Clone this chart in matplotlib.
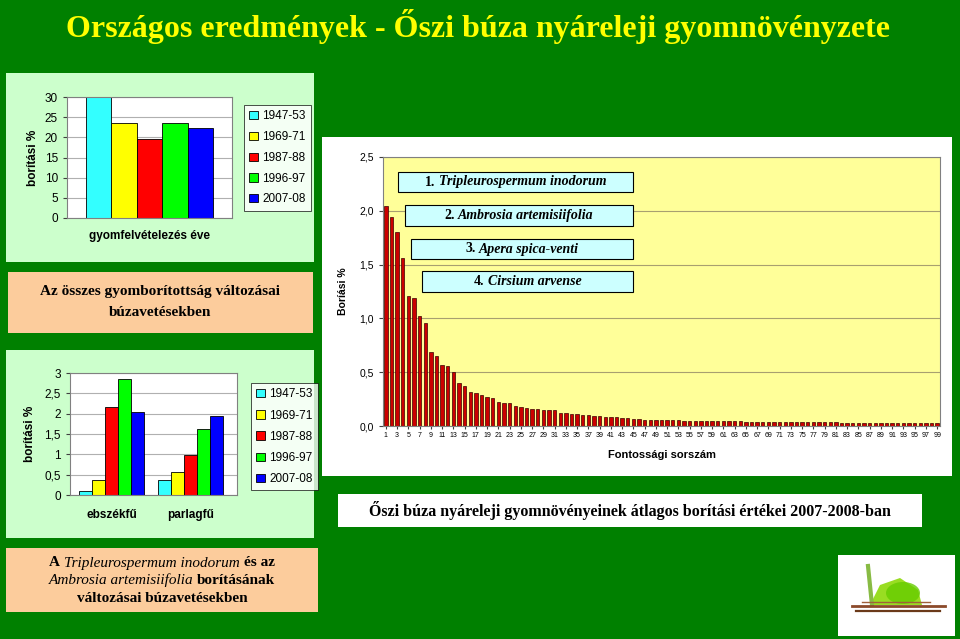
import numpy as np
import matplotlib.pyplot as plt
from matplotlib.patches import Rectangle, Patch, Ellipse, Polygon

# Adatok
years = ['1947-53', '1969-71', '1987-88', '1996-97', '2007-08']
year_colors = ['#33ffff', '#ffff00', '#ff0000', '#00ff00', '#0000ff']

# Összes gyomborítottság (%) felvételezési időszakonként
total_cover = [30.0, 23.6, 19.5, 23.6, 22.4]

# Ebszékfű és parlagfű borítása (%) időszakonként
weeds = ['ebszékfű', 'parlagfű']
cover_ebszekfu = [0.11, 0.38, 2.16, 2.86, 2.03]
cover_parlagfu = [0.36, 0.57, 0.99, 1.62, 1.95]

# 2007-08 átlagos borítás fontossági sorrendben (1..99)
rank_cover = [
    2.04, 1.94, 1.80, 1.56, 1.21, 1.185, 1.02, 0.96, 0.69, 0.655,
    0.567, 0.558, 0.503, 0.396, 0.368, 0.316, 0.307, 0.288, 0.270, 0.260,
    0.220, 0.210, 0.210, 0.190, 0.180, 0.170, 0.156, 0.156, 0.147, 0.147,
    0.147, 0.120, 0.120, 0.113, 0.110, 0.104, 0.098, 0.092, 0.090, 0.086,
    0.085, 0.083, 0.075, 0.073, 0.068, 0.066, 0.060, 0.058, 0.058, 0.058,
    0.058, 0.058, 0.058, 0.050, 0.050, 0.050, 0.050, 0.050, 0.050, 0.050,
    0.045, 0.045, 0.045, 0.045, 0.035, 0.035, 0.035, 0.035, 0.035, 0.035,
    0.035, 0.035, 0.035, 0.035, 0.035, 0.035, 0.035, 0.035, 0.035, 0.035,
    0.035, 0.025, 0.025, 0.025, 0.025, 0.025, 0.025, 0.025, 0.025, 0.025,
    0.025, 0.025, 0.025, 0.025, 0.025, 0.025, 0.025, 0.025, 0.025,
]
top_species = [
    ('1.', 'Tripleurospermum inodorum'),
    ('2.', 'Ambrosia artemisiifolia'),
    ('3.', 'Apera spica-venti'),
    ('4.', 'Cirsium arvense'),
]

SERIF = 'Liberation Serif'
plt.rcParams['font.family'] = 'Liberation Sans'

W, H = 960, 639
fig = plt.figure(figsize=(W / 100, H / 100), dpi=100, facecolor='#008000')

# háttér réteg pixel koordinátákkal
bg = fig.add_axes([0, 0, 1, 1])
bg.set_xlim(0, W)
bg.set_ylim(H, 0)
bg.axis('off')


def box(ax, x0, y0, x1, y1, fc, ec='none', lw=0):
    ax.add_patch(Rectangle((x0, y0), x1 - x0, y1 - y0, fc=fc, ec=ec, lw=lw))


def ax_px(x0, y0, x1, y1, **kw):
    return fig.add_axes([x0 / W, 1 - y1 / H, (x1 - x0) / W, (y1 - y0) / H], **kw)


box(bg, 6, 73, 314, 262, '#ccffcc')
box(bg, 8, 272, 313, 333, '#fccc9c')
box(bg, 6, 350, 314, 538, '#ccffcc')
box(bg, 6, 548, 318, 612, '#fccc9c')
box(bg, 322, 137, 952, 476, 'white')
box(bg, 338, 494, 922, 527, 'white')
box(bg, 838, 555, 955, 636, 'white')


def style_axes(ax):
    ax.set_axisbelow(True)
    ax.grid(axis='y', color='#b0b0b0', lw=0.8)
    for s in ax.spines.values():
        s.set_color('#808080')
        s.set_linewidth(0.8)
    ax.tick_params(colors='#404040', labelcolor='black', width=0.8, length=3)


def year_legend(x, y, spacing):
    handles = [Patch(fc=c, ec='black', lw=0.6) for c in year_colors]
    leg = fig.legend(handles, years, loc='upper left', bbox_to_anchor=(x / W, 1 - y / H),
                     fontsize=8.5, frameon=True, fancybox=False, edgecolor='black',
                     handlelength=0.7, handleheight=0.7, handletextpad=0.4,
                     labelspacing=spacing, borderaxespad=0, borderpad=0.45)
    leg.get_frame().set_linewidth(0.6)


# 1. összes gyomborítottság
ax1 = ax_px(67, 97, 232, 218)
style_axes(ax1)
for i, (v, c) in enumerate(zip(total_cover, year_colors)):
    ax1.bar(i, v, width=1, color=c, edgecolor='black', lw=0.6)
ax1.set_xlim(-1.25, 5.25)
ax1.set_ylim(0, 30)
ax1.set_yticks(range(0, 31, 5))
ax1.set_xticks([2])
ax1.set_xticklabels(['gyomfelvételezés éve'], fontweight='bold', fontsize=8.5)
ax1.tick_params(axis='x', length=0, pad=9)
ax1.tick_params(axis='y', labelsize=8.5)
ax1.set_ylabel('borítási %', fontweight='bold', fontsize=8.5, labelpad=4)
year_legend(244, 105, 0.74)

# 2. ebszékfű és parlagfű
ax2 = ax_px(70, 373, 237, 495)
style_axes(ax2)
x = np.arange(len(weeds))
bw = 0.165
for i, c in enumerate(year_colors):
    vals = [cover_ebszekfu[i], cover_parlagfu[i]]
    ax2.bar(x + (i - 2) * bw, vals, width=bw, color=c, edgecolor='black', lw=0.6)
ax2.set_xlim(-0.53, 1.59)
ax2.set_ylim(0, 3)
yt = [0, 0.5, 1, 1.5, 2, 2.5, 3]
ax2.set_yticks(yt)
ax2.set_yticklabels([('%g' % v).replace('.', ',') for v in yt], fontsize=8.5)
ax2.set_xticks(x)
ax2.set_xticklabels(weeds, fontweight='bold', fontsize=8.5)
ax2.tick_params(axis='x', length=0, pad=10)
ax2.set_ylabel('borítási %', fontweight='bold', fontsize=8.5, labelpad=6)
year_legend(251, 383, 0.78)

# 3. fontossági sorrend
ax3 = ax_px(383, 157, 940, 426, facecolor='#ffff99')
ax3.set_axisbelow(True)
ax3.grid(axis='y', color='#a8a070', lw=0.8)
for s in ax3.spines.values():
    s.set_color('#808080')
    s.set_linewidth(0.8)
ranks = np.arange(1, len(rank_cover) + 1)
ax3.bar(ranks, rank_cover, width=0.6, color='#cc0000', edgecolor='#3a0000', lw=0.5)
ax3.set_xlim(0.5, len(rank_cover) + 0.5)
ax3.set_ylim(0, 2.5)
yt3 = [0, 0.5, 1, 1.5, 2, 2.5]
ax3.set_yticks(yt3)
ax3.set_yticklabels([('%.1f' % v).replace('.', ',') for v in yt3], fontsize=7.5)
ax3.set_xticks(ranks[::2])
ax3.set_xticklabels([str(r) for r in ranks[::2]], fontsize=5)
ax3.tick_params(axis='x', length=2, pad=2, colors='#404040', labelcolor='black')
ax3.tick_params(axis='y', length=3, colors='#404040', labelcolor='black')
ax3.set_xlabel('Fontossági sorszám', fontweight='bold', fontsize=8, labelpad=8)
ax3.set_ylabel('Boríási %', fontweight='bold', fontsize=7.5, labelpad=8)

# felső réteg: szövegek, dobozok
top = fig.add_axes([0, 0, 1, 1], zorder=5)
top.set_xlim(0, W)
top.set_ylim(H, 0)
top.set_facecolor('none')
top.axis('off')

renderer = fig.canvas.get_renderer()


def rich_line(cx, y, parts, size, color='black'):
    """parts: (szöveg, stílus) párok; 'b' félkövér, 'i' dőlt, 'bi' mindkettő"""
    texts = []
    for s, st in parts:
        t = top.text(0, y, s, fontsize=size, family=SERIF, color=color,
                     fontweight='bold' if 'b' in st else 'normal',
                     fontstyle='italic' if 'i' in st else 'normal',
                     ha='left', va='center')
        texts.append(t)
    gap = size * 0.25 * 100 / 72
    widths = [t.get_window_extent(renderer).width for t in texts]
    xx = cx - (sum(widths) + gap * (len(texts) - 1)) / 2
    for t, w in zip(texts, widths):
        t.set_x(xx)
        xx += w + gap


top.text(478, 26, 'Országos eredmények - Őszi búza nyáreleji gyomnövényzete',
         fontsize=23, family=SERIF, fontweight='bold', color='#ffff00',
         ha='center', va='center')

rich_line(160, 291, [('Az összes gyomborítottság változásai', 'b')], 11)
rich_line(160, 312, [('búzavetésekben', 'b')], 11)

rich_line(162, 563, [('A', 'b'), ('Tripleurospermum inodorum', 'i'), ('és az', 'b')], 11)
rich_line(162, 580, [('Ambrosia artemisiifolia', 'i'), ('borításának', 'b')], 11)
rich_line(162, 598, [('változásai búzavetésekben', 'b')], 11)

rich_line(630, 510, [('Őszi búza nyáreleji gyomnövényeinek átlagos borítási értékei 2007-2008-ban', 'b')], 11.5)

species_boxes = [(398, 172, 192), (405, 205, 226), (411, 239, 259), (422, 271, 292)]
for (num, name), (x0, y0, y1) in zip(top_species, species_boxes):
    box(top, x0, y0, 633, y1, '#ccffff', ec='black', lw=0.8)
    rich_line((x0 + 633) / 2, (y0 + y1) / 2, [(num, 'b'), (name, 'bi')], 10)

# logó
top.add_patch(Polygon([(870, 605), (880, 585), (900, 578), (918, 590), (922, 605)],
                      closed=True, fc='#99dd22', ec='none'))
top.add_patch(Ellipse((903, 593), 34, 22, fc='#66cc00', ec='none', alpha=0.8))
top.plot([868, 872], [566, 605], color='#88bb44', lw=3)
top.plot([852, 945], [606, 606], color='#8b4a2a', lw=2)
top.plot([856, 940], [611, 611], color='#6b3a1a', lw=1.6)
top.plot([862, 930], [602, 602], color='#a0603a', lw=1)

fig.savefig('out.png', dpi=100, facecolor=fig.get_facecolor())
